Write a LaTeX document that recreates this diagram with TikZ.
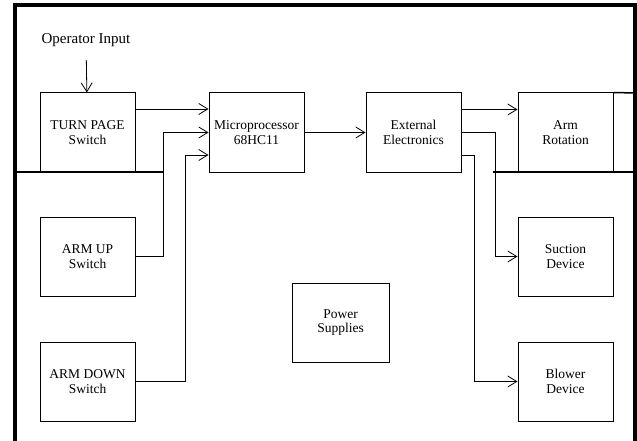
\documentclass[tikz,border=0pt]{standalone}
\usepackage{fontspec}
\setmainfont{Liberation Serif}
\usetikzlibrary{positioning,arrows.meta}

\begin{document}
\begin{tikzpicture}[x=1pt,y=-1pt,>={Straight Barb[length=9pt,width=11pt]},every node/.style={align=center,font=\fontsize{13.5}{14.5}\selectfont},box/.style={draw,line width=1pt,minimum width=95pt,minimum height=79pt,inner sep=0pt},wire/.style={draw,->,line width=0.8pt},rim/.style={line width=4pt},seam/.style={line width=1.5pt}]
  \useasboundingbox (0,0) rectangle (637,441);
  % frame
  \draw[rim] (15,441) -- (15,5) -- (635,5) -- (635,441);
  % blocks
  \node[box] (turn) at (87.5,132.5) {TURN PAGE\\Switch};
  \node[box,right=73pt of turn] (micro) {Microprocessor\\68HC11};
  \node[box,right=61pt of micro] (ext) {External\\Electronics};
  \node[box,right=56pt of ext] (arm) {Arm\\Rotation};
  \node[box,below=44pt of turn] (up) {ARM UP\\Switch};
  \node[box,below=45pt of up] (down) {ARM DOWN\\Switch};
  \node[box,below=44pt of arm] (suction) {Suction\\Device};
  \node[box,below=45pt of suction] (blower) {Blower\\Device};
  \node[box,minimum width=97pt] (power) at (340.5,322.5) {Power\\Supplies};
  \node (op) at (86,40) [font=\fontsize{15}{16}\selectfont] {Operator Input};
  % seams
  \draw[seam] (15,172) -- (163,172);
  \draw[seam] (493,172) -- (635,172);
  \draw[seam] (arm.north east) -- (635,93);
  % signals
  \draw[wire,shorten <=10pt] (op) -- (turn);
  \draw[wire] ([yshift=23.5pt]turn.east) -- ([yshift=23.5pt]turn.east -| micro.west);
  \draw[wire] (up.east) -- ++(28pt,0) |- (micro.west);
  \draw[wire] (down.east) -- ++(50pt,0) |- ([yshift=-22.5pt]micro.west);
  \draw[wire] (micro) -- (ext);
  \draw[wire] ([yshift=23pt]ext.east) -- ([yshift=23pt]ext.east -| arm.west);
  \draw[wire] (ext.east) -- ++(34pt,0) |- (suction.west);
  \draw[wire] ([yshift=-22.5pt]ext.east) -- ++(13pt,0) |- (blower.west);
\end{tikzpicture}
\end{document}
